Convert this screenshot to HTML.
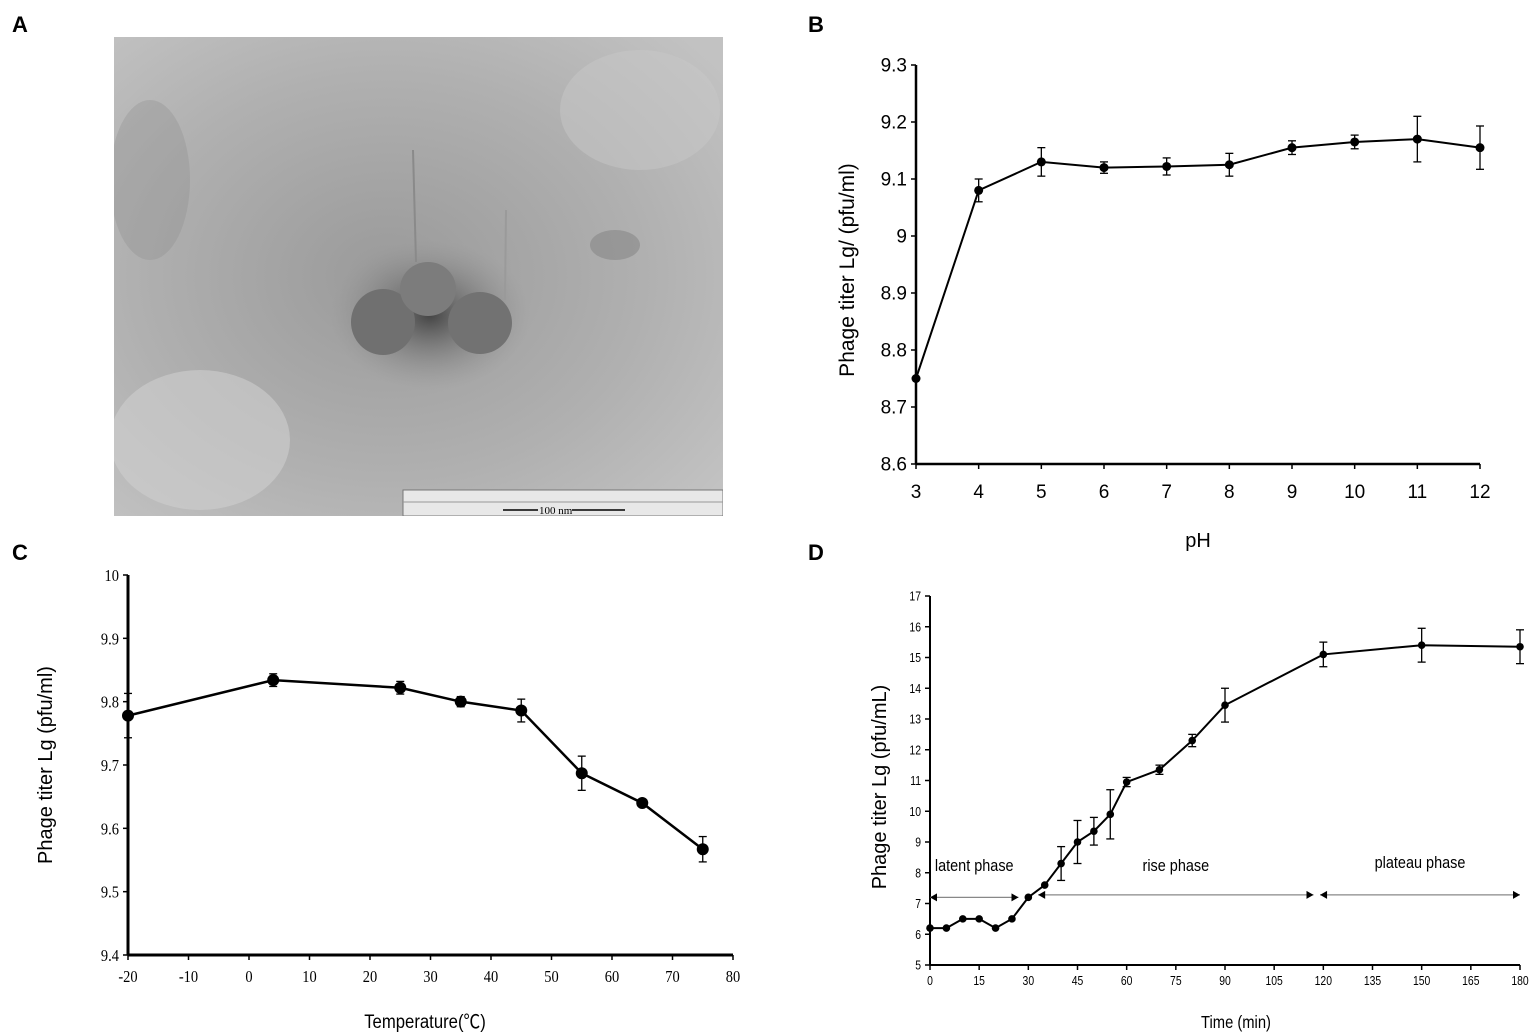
<!DOCTYPE html>
<html><head><meta charset="utf-8"><style>
body{margin:0;background:#fff;width:1535px;height:1036px;overflow:hidden}
svg{position:absolute;left:0;top:0}
</style></head><body>
<svg id="fig" width="1535" height="1036">
<defs>
<radialGradient id="halo" cx="50%" cy="50%" r="50%"><stop offset="0" stop-color="#3a3a3a" stop-opacity="0.9"/><stop offset="0.5" stop-color="#6a6a6a" stop-opacity="0.5"/><stop offset="1" stop-color="#909090" stop-opacity="0"/></radialGradient>
<radialGradient id="bgA" cx="45%" cy="50%" r="70%"><stop offset="0" stop-color="#9a9a9a"/><stop offset="0.6" stop-color="#b0b0b0"/><stop offset="1" stop-color="#c2c2c2"/></radialGradient>
<clipPath id="clipA"><rect x="114" y="37" width="609" height="479"/></clipPath>
</defs>
<text x="12" y="32" font-family="Liberation Sans, sans-serif" font-weight="bold" font-size="22">A</text>
<text x="808" y="32" font-family="Liberation Sans, sans-serif" font-weight="bold" font-size="22">B</text>
<text x="12" y="560" font-family="Liberation Sans, sans-serif" font-weight="bold" font-size="22">C</text>
<text x="808" y="560" font-family="Liberation Sans, sans-serif" font-weight="bold" font-size="22">D</text>
<g clip-path="url(#clipA)">
<rect x="114" y="37" width="609" height="479" fill="url(#bgA)"/>
<ellipse cx="200" cy="440" rx="90" ry="70" fill="#cfcfcf" opacity="0.6"/>
<ellipse cx="640" cy="110" rx="80" ry="60" fill="#c8c8c8" opacity="0.5"/>
<ellipse cx="150" cy="180" rx="40" ry="80" fill="#8e8e8e" opacity="0.35"/>
<ellipse cx="430" cy="315" rx="100" ry="75" fill="url(#halo)"/>
<ellipse cx="383" cy="322" rx="32" ry="33" fill="#707070"/>
<ellipse cx="428" cy="289" rx="28" ry="27" fill="#7c7c7c"/>
<ellipse cx="480" cy="323" rx="32" ry="31" fill="#727272"/>
<line x1="413" y1="150" x2="416" y2="262" stroke="#8a8a8a" stroke-width="2"/>
<line x1="506" y1="210" x2="505" y2="300" stroke="#9a9a9a" stroke-width="2"/>
<ellipse cx="615" cy="245" rx="25" ry="15" fill="#808080" opacity="0.5"/>
<rect x="403" y="490" width="320" height="26" fill="#e8e8e8" stroke="#777" stroke-width="1"/>
<line x1="403" y1="502" x2="723" y2="502" stroke="#999"/>
<line x1="503" y1="510" x2="538" y2="510" stroke="#000" stroke-width="1.5"/>
<line x1="572" y1="510" x2="625" y2="510" stroke="#000" stroke-width="1.5"/>
<text x="539" y="514" font-family="Liberation Serif, serif" font-size="11">100  nm</text>
</g>
<g id="chartB"></g>
<g id="chartC"></g>
<g id="chartD"></g>
</svg>
<script>
// Panel B data
const phX = [3,4,5,6,7,8,9,10,11,12];
const phY = [8.75,9.08,9.13,9.12,9.122,9.125,9.155,9.165,9.17,9.155];
const phErr = [0,0.02,0.025,0.01,0.015,0.02,0.012,0.012,0.04,0.038];
const phXTicks = [3,4,5,6,7,8,9,10,11,12];
const phYTicks = [8.6,8.7,8.8,8.9,9,9.1,9.2,9.3];
// Panel C data
const tempX = [-20,4,25,35,45,55,65,75];
const tempY = [9.778,9.834,9.822,9.8,9.786,9.687,9.64,9.567];
const tempErr = [0.035,0.01,0.01,0.008,0.018,0.027,0.004,0.02];
const tempXTicks = [-20,-10,0,10,20,30,40,50,60,70,80];
const tempYTicks = [9.4,9.5,9.6,9.7,9.8,9.9,10];
// Panel D data
const timeX = [0,5,10,15,20,25,30,35,40,45,50,55,60,70,80,90,120,150,180];
const titerY = [6.2,6.2,6.5,6.5,6.2,6.5,7.2,7.6,8.3,9.0,9.35,9.9,10.95,11.35,12.3,13.45,15.1,15.4,15.35];
const titerErr = [0,0,0,0,0,0,0,0,0.55,0.7,0.45,0.8,0.15,0.15,0.2,0.55,0.4,0.55,0.55];
const timeXTicks = [0,15,30,45,60,75,90,105,120,135,150,165,180];
const titerYTicks = [5,6,7,8,9,10,11,12,13,14,15,16,17];
const phaseNames = ['latent phase','rise phase','plateau phase'];
const phaseBounds = [[0,27],[33,117],[119,180]];

const NS='http://www.w3.org/2000/svg';
function mk(parent,tag,attrs,txt){const e=document.createElementNS(NS,tag);for(const k in attrs)e.setAttribute(k,attrs[k]);if(txt!==undefined)e.textContent=txt;parent.appendChild(e);return e;}

function chart(g,o){
  const sx=v=>o.x0+(v-o.xmin)/(o.xmax-o.xmin)*(o.x1-o.x0);
  const sy=v=>o.y0-(v-o.ymin)/(o.ymax-o.ymin)*(o.y0-o.y1);
  let e=mk(g,'line',{x1:o.x0,y1:o.y0,x2:o.x0,y2:o.y1,stroke:'#000','stroke-width':o.aw});
  
  
  e=mk(g,'line',{x1:o.x0,y1:o.y0,x2:o.x1,y2:o.y0,stroke:'#000','stroke-width':o.aw});
  
  
  o.yt.forEach(v=>{
    mk(g,'line',{x1:o.x0-5,y1:sy(v),x2:o.x0,y2:sy(v),stroke:'#000','stroke-width':1.5});
    const t=mk(g,'text',{x:o.x0-9,y:sy(v)+o.fs*0.35,'text-anchor':'end','font-family':o.font,'font-size':o.fs,transform:o.cond?`translate(${(o.x0-9)*(1-o.cond)},0) scale(${o.cond},1)`:''},String(v));
    
    
  });
  o.xt.forEach(v=>{
    mk(g,'line',{x1:sx(v),y1:o.y0,x2:sx(v),y2:o.y0+5,stroke:'#000','stroke-width':1.5});
    const t=mk(g,'text',{x:sx(v),y:o.y0+o.xoff,'text-anchor':'middle','font-family':o.font,'font-size':o.fs,transform:o.cond?`translate(${sx(v)*(1-o.cond)},0) scale(${o.cond},1)`:''},String(v));
    
    
  });
  const pts=o.xs.map((v,i)=>sx(v)+','+sy(o.ys[i])).join(' ');
  e=mk(g,'polyline',{points:pts,fill:'none',stroke:'#000','stroke-width':o.lw});
  
  
  o.xs.forEach((v,i)=>{
    const x=sx(v),y=sy(o.ys[i]),er=o.err[i];
    if(er>0){
      const a=sy(o.ys[i]+er),b=sy(o.ys[i]-er);
      mk(g,'line',{x1:x,y1:a,x2:x,y2:b,stroke:'#000','stroke-width':1.3});
      mk(g,'line',{x1:x-4,y1:a,x2:x+4,y2:a,stroke:'#000','stroke-width':1.3});
      mk(g,'line',{x1:x-4,y1:b,x2:x+4,y2:b,stroke:'#000','stroke-width':1.3});
    }
    const c=mk(g,'circle',{cx:x,cy:y,r:o.r,fill:'#000'});
    
    
  });
  return {sx,sy};
}

chart(document.getElementById('chartB'),{x0:916,x1:1480,y0:464,y1:65,xmin:3,xmax:12,ymin:8.6,ymax:9.3,xt:phXTicks,yt:phYTicks,xs:phX,ys:phY,err:phErr,font:'Liberation Sans, sans-serif',fs:19,xoff:34,aw:2.5,lw:2,r:4.5});
chart(document.getElementById('chartC'),{x0:128,x1:733,y0:955,y1:575,xmin:-20,xmax:80,ymin:9.4,ymax:10,xt:tempXTicks,yt:tempYTicks,xs:tempX,ys:tempY,err:tempErr,font:'Liberation Serif, serif',fs:17,xoff:27,aw:3,lw:2.5,r:6,cond:0.85});
const d=chart(document.getElementById('chartD'),{x0:930,x1:1520,y0:965,y1:596,xmin:0,xmax:180,ymin:5,ymax:17,xt:timeXTicks,yt:titerYTicks,xs:timeX,ys:titerY,err:titerErr,font:'Liberation Sans, sans-serif',fs:13,xoff:20,aw:2,lw:2,r:3.8,cond:0.8});

const gd=document.getElementById('chartD');
phaseNames.forEach((n,i)=>{
  const [a,b]=phaseBounds[i];
  const y=i===0?d.sy(7.2):d.sy(7.28);
  const x1=d.sx(a),x2=d.sx(b);
  const l=mk(gd,'line',{x1:x1,y1:y,x2:x2,y2:y,stroke:'#888','stroke-width':1.2});
  
  
  mk(gd,'path',{d:`M${x1},${y} l7,-4 v8 z`,fill:'#000'});
  mk(gd,'path',{d:`M${x2},${y} l-7,-4 v8 z`,fill:'#000'});
  const t=mk(gd,'text',{x:(x1+x2)/2,y:d.sy(i===2?8.15:8.05),'text-anchor':'middle','font-family':'Liberation Sans, sans-serif','font-size':17,transform:`translate(${(x1+x2)/2*0.15},0) scale(0.85,1)`},n);
  
  
});

const svg=document.getElementById('fig');
function lbl(x,y,txt,fs,rot,font,name,sc){
  const t=mk(svg,'text',{x:x,y:y,'text-anchor':'middle','font-family':font||'Liberation Sans, sans-serif','font-size':fs,transform:(rot?`rotate(-90 ${x} ${y})`:'')+(sc?` translate(${x*(1-sc)},0) scale(${sc},1)`:'')},txt);
  
  
}
lbl(854,270,'Phage titer Lg/ (pfu/ml)',21,true,null,'y-axis-title-b');
lbl(1198,547,'pH',20,false,null,'x-axis-title-b');
lbl(52,765,'Phage titer Lg (pfu/ml)',20,true,null,'y-axis-title-c');
lbl(425,1028,'Temperature(℃)',19,false,'Liberation Sans, "Noto Sans CJK SC", sans-serif','x-axis-title-c',0.88);
lbl(886,787,'Phage titer Lg (pfu/mL)',20,true,null,'y-axis-title-d');
lbl(1236,1028,'Time (min)',18,false,null,'x-axis-title-d',0.82);
</script>
</body></html>
